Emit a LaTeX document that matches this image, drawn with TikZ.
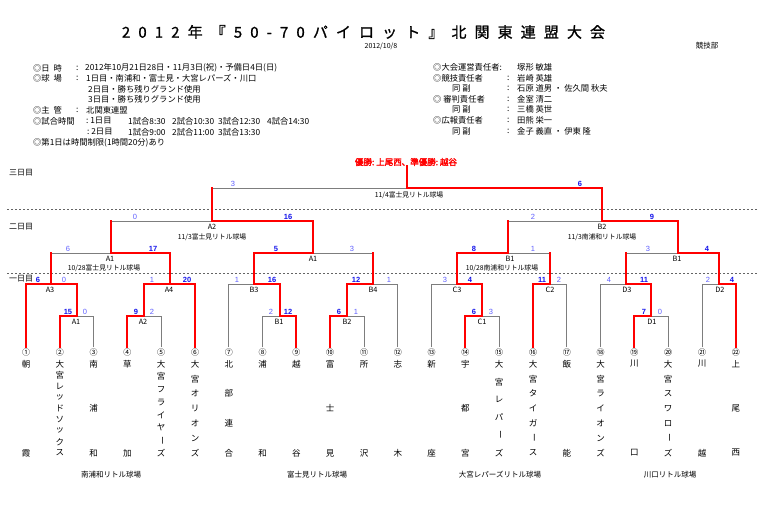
\documentclass[tikz,border=0pt]{standalone}
\usepackage{fontspec}
\setmainfont{Noto Sans CJK JP}
\newfontfamily\jpbold[FakeBold=2.5]{Noto Sans CJK JP}
\newfontfamily\jptitle[FakeBold=1]{Noto Sans CJK JP}
\newfontfamily\numfont{Liberation Sans}
\definecolor{lg}{RGB}{125,125,125}
\definecolor{rd}{RGB}{255,0,0}
\definecolor{sblue}{RGB}{95,95,255}
\definecolor{bblue}{RGB}{20,20,235}
\newcommand\tk{\kern8.1pt}
\newcommand\cho{\rotatebox[origin=c]{-90}{ー}}
\newcommand\tname[3]{\foreach \ch [count=\k] in {#3} {\node[tn] (nm#1-\k) at ({26+33.8*(#1-1)},{364+(\k-1)*89/(#2-1)}) {\ch};}}
\begin{document}
\begin{tikzpicture}[x=1pt,y=-1pt,
  gl/.style={draw=lg,line width=0.9pt},
  rl/.style={draw=rd,line width=2pt,line cap=rect},
  dl/.style={draw=lg!80!black,line width=0.8pt,dash pattern=on 2pt off 2pt},
  info/.style={anchor=west,inner sep=0pt,font=\fontsize{8.3}{9}\selectfont},
  sc/.style={inner sep=0pt,anchor=south,text=sblue,font=\numfont\fontsize{7.5}{8}\selectfont},
  scb/.style={inner sep=0pt,anchor=south,text=bblue,font=\numfont\bfseries\fontsize{7.5}{8}\selectfont},
  ml/.style={inner sep=0pt,font=\fontsize{7.3}{8}\selectfont},
  vn/.style={inner sep=0pt,font=\fontsize{6.8}{7}\selectfont},
  tn/.style={inner sep=0pt,font=\fontsize{8.5}{9}\selectfont},
  num/.style={inner sep=0pt,font=\fontsize{8}{9}\selectfont},
  day/.style={anchor=west,inner sep=0pt,font=\fontsize{8}{9}\selectfont},
  bv/.style={inner sep=0pt,font=\fontsize{7.5}{8}\selectfont},
]
\fill[white] (0,0) rectangle (780,511);
\useasboundingbox (0,0) rectangle (780,511);

% ---------- header ----------
\node[inner sep=0pt,font=\jptitle\fontsize{15}{16}\selectfont] (title) at (363.5,32)
 {2\tk 0\tk 1\tk 2\tk 年\tk 『\tk 5\tk 0\tk -\tk 7\tk 0\tk パ\tk イ\tk ロ\tk ッ\tk ト\tk 』\tk 北\tk 関\tk 東\tk 連\tk 盟\tk 大\tk 会};
\node[inner sep=0pt,font=\fontsize{7}{8}\selectfont] (date) at (381,46) {2012/10/8};
\node[inner sep=0pt,font=\fontsize{7.5}{8}\selectfont] (dept) at (707,46) {競技部};

% left info
\node[info] (i1a) at (33,68) {◎日\ \ 時};
\node[info] (i1b) at (76,68) {:};
\node[info] (i1c) at (85,68) {2012年10月21日28日・11月3日(祝)・予備日4日(日)};
\node[info] (i2a) at (33,78) {◎球\ \ 場};
\node[info] (i2b) at (76,78) {:};
\node[info] (i2c) at (86,78) {1日目・南浦和・富士見・大宮レパーズ・川口};
\node[info] (i3) at (88,89) {2日目・勝ち残りグランド使用};
\node[info] (i4) at (88,99) {3日目・勝ち残りグランド使用};
\node[info] (i5a) at (33,110) {◎主\ \ 管};
\node[info] (i5b) at (76,110) {:};
\node[info] (i5c) at (86,110) {北関東連盟};
\node[info] (i6a) at (33,121) {◎試合時間};
\node[info] (i6b) at (86,121) {:\ 1日目};
\node[info] (i6c) at (128,121) {1試合8:30};
\node[info] (i6d) at (172,121) {2試合10:30};
\node[info] (i6e) at (218,121) {3試合12:30};
\node[info] (i6f) at (267,121) {4試合14:30};
\node[info] (i7b) at (87,132) {:\ 2日目};
\node[info] (i7c) at (128,132) {1試合9:00};
\node[info] (i7d) at (172,132) {2試合11:00};
\node[info] (i7e) at (218,132) {3試合13:30};
\node[info] (i8) at (33,143) {◎第1日は時間制限(1時間20分)あり};

% right info
\node[info] (r1a) at (433,67) {◎大会運営責任者:};
\node[info] (r1c) at (517,67) {塚形\ 敏雄};
\node[info] (r2a) at (433,78) {◎競技責任者};
\node[info] (r2b) at (507,78) {:};
\node[info] (r2c) at (517,78) {岩崎\ 英雄};
\node[info] (r3a) at (452,88) {同\ 副};
\node[info] (r3b) at (507,88) {:};
\node[info] (r3c) at (517,88) {石原\ 道男\ ・\ 佐久間\ 秋夫};
\node[info] (r4a) at (433,99) {◎\ 審判責任者};
\node[info] (r4b) at (507,99) {:};
\node[info] (r4c) at (517,99) {金室\ 清二};
\node[info] (r5a) at (452,109) {同\ 副};
\node[info] (r5b) at (507,109) {:};
\node[info] (r5c) at (517,109) {三橋\ 英世};
\node[info] (r6a) at (433,120) {◎広報責任者};
\node[info] (r6b) at (507,120) {:};
\node[info] (r6c) at (517,120) {田熊\ 栄一};
\node[info] (r7a) at (452,131) {同\ 副};
\node[info] (r7b) at (507,131) {:};
\node[info] (r7c) at (517,131) {金子\ 義直\ ・\ 伊東\ 隆};

% ---------- day labels & dashed separators ----------
\node[day] (d3) at (9,173) {三日目};
\node[day] (d2) at (9,227) {二日目};
\node[day] (d1) at (9,279) {一日目};
\coordinate (s1l) at (7,209); \coordinate (s1r) at (758,209);
\coordinate (s2l) at (7,273); \coordinate (s2r) at (758,273);
\draw[dl] (s1l) -- (s1r);
\draw[dl] (s2l) -- (s2r);

% ---------- coordinates ----------
\foreach \i in {1,...,22} \coordinate (t\i) at ({26+33.8*(\i-1)},347);
\coordinate (a1) at (76.7,316);  \coordinate (a2) at (144.3,316);
\coordinate (b1) at (279.5,316); \coordinate (b2) at (347.1,316);
\coordinate (c1) at (482.3,316); \coordinate (dd1) at (651.3,316);
\coordinate (A3) at (51.35,284); \coordinate (A4) at (169.6,284);
\coordinate (B3) at (254.2,284); \coordinate (B4) at (372.5,284);
\coordinate (C3) at (457,284);   \coordinate (C2) at (549.9,284);
\coordinate (D3) at (626,284);   \coordinate (D2) at (718.9,284);
\coordinate (A1L) at (110.5,253); \coordinate (A1M) at (313.3,253);
\coordinate (B1L) at (508,253);   \coordinate (B1R) at (678,253);
\coordinate (A2) at (212,221);    \coordinate (B2) at (601.5,221);
\coordinate (F) at (407,188);

% ---------- gray (losing) lines ----------
\draw[gl] (t3) -- (t3 |- a1);
\draw[gl] (t5) -- (t5 |- a2);
\draw[gl] (t7) -- (t7 |- B3);
\draw[gl] (t8) -- (t8 |- b1);
\draw[gl] (t11) -- (t11 |- b2);
\draw[gl] (t12) -- (t12 |- B4);
\draw[gl] (t13) -- (t13 |- C3);
\draw[gl] (t15) -- (t15 |- c1);
\draw[gl] (t17) -- (t17 |- C2);
\draw[gl] (t18) -- (t18 |- D3);
\draw[gl] (t20) -- (t20 |- dd1);
\draw[gl] (t21) -- (t21 |- D2);
\draw[gl] (a1) -- (t3 |- a1);
\draw[gl] (a2) -- (t5 |- a2);
\draw[gl] (t8 |- b1) -- (b1);
\draw[gl] (b2) -- (t11 |- b2);
\draw[gl] (c1) -- (t15 |- c1);
\draw[gl] (dd1) -- (t20 |- dd1);
\draw[gl] (t7 |- B3) -- (B3);
\draw[gl] (B4) -- (t12 |- B4);
\draw[gl] (t13 |- C3) -- (C3);
\draw[gl] (C2) -- (t17 |- C2);
\draw[gl] (t18 |- D3) -- (D3);
\draw[gl] (t21 |- D2) -- (D2);
\draw[gl] (A3 |- A1L) -- (A1L);
\draw[gl] (A1M) -- (B4 |- A1M);
\draw[gl] (B1L) -- (C2 |- B1L);
\draw[gl] (D3 |- B1R) -- (B1R);
\draw[gl] (A1L |- A2) -- (A2);
\draw[gl] (B1L |- B2) -- (B2);
\draw[gl] (A2 |- F) -- (F);

% ---------- champion ----------
\node[inner sep=0pt,text=rd,font=\jpbold\fontsize{8.5}{9}\selectfont] (champ) at (406,162) {優勝:\ 上尾西、準優勝:\ 越谷};

% ---------- red (winning) lines ----------
\draw[rl] (t1) -- (t1 |- A3);
\draw[rl] (t2) -- (t2 |- a1);
\draw[rl] (t4) -- (t4 |- a2);
\draw[rl] (t6) -- (t6 |- A4);
\draw[rl] (t9) -- (t9 |- b1);
\draw[rl] (t10) -- (t10 |- b2);
\draw[rl] (t14) -- (t14 |- c1);
\draw[rl] (t16) -- (t16 |- C2);
\draw[rl] (t19) -- (t19 |- dd1);
\draw[rl] (t22) -- (t22 |- D2);
\draw[rl] (a1) -- (a1 |- A3);
\draw[rl] (a2) -- (a2 |- A4);
\draw[rl] (b1) -- (b1 |- B3);
\draw[rl] (b2) -- (b2 |- B4);
\draw[rl] (c1) -- (c1 |- C3);
\draw[rl] (dd1) -- (dd1 |- D3);
\draw[rl] (A3) -- (A3 |- A1L);
\draw[rl] (A4) -- (A4 |- A1L);
\draw[rl] (B3) -- (B3 |- A1M);
\draw[rl] (B4) -- (B4 |- A1M);
\draw[rl] (C3) -- (C3 |- B1L);
\draw[rl] (C2) -- (C2 |- B1L);
\draw[rl] (D3) -- (D3 |- B1R);
\draw[rl] (D2) -- (D2 |- B1R);
\draw[rl] (A1L) -- (A1L |- A2);
\draw[rl] (A1M) -- (A1M |- A2);
\draw[rl] (B1L) -- (B1L |- B2);
\draw[rl] (B1R) -- (B1R |- B2);
\draw[rl] (A2) -- (A2 |- F);
\draw[rl] (B2) -- (B2 |- F);
\draw[rl] (F) -- (F |- champ.south);
\draw[rl] (t2 |- a1) -- (a1);
\draw[rl] (t4 |- a2) -- (a2);
\draw[rl] (b1) -- (t9 |- b1);
\draw[rl] (t10 |- b2) -- (b2);
\draw[rl] (t14 |- c1) -- (c1);
\draw[rl] (t19 |- dd1) -- (dd1);
\draw[rl] (t1 |- A3) -- (a1 |- A3);
\draw[rl] (a2 |- A4) -- (t6 |- A4);
\draw[rl] (B3) -- (b1 |- B3);
\draw[rl] (b2 |- B4) -- (B4);
\draw[rl] (C3) -- (c1 |- C3);
\draw[rl] (t16 |- C2) -- (C2);
\draw[rl] (D3) -- (dd1 |- D3);
\draw[rl] (D2) -- (t22 |- D2);
\draw[rl] (A1L) -- (A4 |- A1L);
\draw[rl] (B3 |- A1M) -- (A1M);
\draw[rl] (C3 |- B1L) -- (B1L);
\draw[rl] (B1R) -- (D2 |- B1R);
\draw[rl] (A2) -- (A1M |- A2);
\draw[rl] (B2) -- (B1R |- B2);
\draw[rl] (F) -- (B2 |- F);

% ---------- scores ----------
% level 4 (y=316)
\node[scb] (s01) at (68,314.5) {15};  \node[sc] (s02) at (85,314.5) {0};
\node[scb] (s03) at (136,314.5) {9};  \node[sc] (s04) at (152,314.5) {2};
\node[sc] (s05) at (271,314.5) {2};   \node[scb] (s06) at (288,314.5) {12};
\node[scb] (s07) at (339,314.5) {6};  \node[sc] (s08) at (356,314.5) {1};
\node[scb] (s09) at (474,314.5) {6};  \node[sc] (s10) at (491,314.5) {3};
\node[scb] (s11) at (644,314.5) {7};  \node[sc] (s12) at (660,314.5) {0};
% level 3 (y=284)
\node[scb] (s13) at (38,282.5) {6};   \node[sc] (s14) at (64,282.5) {0};
\node[sc] (s15) at (152,282.5) {1};   \node[scb] (s16) at (187,282.5) {20};
\node[sc] (s17) at (237,282.5) {1};   \node[scb] (s18) at (272,282.5) {16};
\node[scb] (s19) at (356,282.5) {12}; \node[sc] (s20) at (389,282.5) {1};
\node[sc] (s21) at (445,282.5) {3};   \node[scb] (s22) at (470,282.5) {4};
\node[scb] (s23) at (542,282.5) {11}; \node[sc] (s24) at (559,282.5) {2};
\node[sc] (s25) at (609,282.5) {4};   \node[scb] (s26) at (644,282.5) {11};
\node[sc] (s27) at (708,282.5) {2};   \node[scb] (s28) at (732,282.5) {4};
% level 2 (y=253)
\node[sc] (s29) at (68,251.5) {6};    \node[scb] (s30) at (153,251.5) {17};
\node[scb] (s31) at (276,251.5) {5};  \node[sc] (s32) at (352,251.5) {3};
\node[scb] (s33) at (474,251.5) {8};  \node[sc] (s34) at (533,251.5) {1};
\node[sc] (s35) at (648,251.5) {3};   \node[scb] (s36) at (707,251.5) {4};
% level 1 (y=221)
\node[sc] (s37) at (135,219.5) {0};   \node[scb] (s38) at (288,219.5) {16};
\node[sc] (s39) at (533,219.5) {2};   \node[scb] (s40) at (652,219.5) {9};
% final (y=188)
\node[sc] (s41) at (233,186.5) {3};   \node[scb] (s42) at (580,186.5) {6};

% ---------- match labels ----------
\node[ml] (la1) at (76,322) {A1};  \node[ml] (la2) at (143,322) {A2};
\node[ml] (lb1) at (279,322) {B1}; \node[ml] (lb2) at (347,322) {B2};
\node[ml] (lc1) at (482,322) {C1}; \node[ml] (ld1) at (652,322) {D1};
\node[ml] (lA3) at (50,290) {A3};  \node[ml] (lA4) at (169,290) {A4};
\node[ml] (lB3) at (254,290) {B3}; \node[ml] (lB4) at (373,290) {B4};
\node[ml] (lC3) at (457,290) {C3}; \node[ml] (lC2) at (550,290) {C2};
\node[ml] (lD3) at (627,290) {D3}; \node[ml] (lD2) at (720,290) {D2};
\node[ml] (lA1L) at (110,259) {A1}; \node[ml] (lA1M) at (313,259) {A1};
\node[ml] (lB1L) at (510,259) {B1}; \node[ml] (lB1R) at (677,259) {B1};
\node[ml] (lA2) at (212,227) {A2};  \node[ml] (lB2) at (602,227) {B2};
\node[vn] (vA1L) at (104,268) {10/28富士見リトル球場};
\node[vn] (vB1L) at (502,268) {10/28南浦和リトル球場};
\node[vn] (vA2) at (212,237) {11/3富士見リトル球場};
\node[vn] (vB2) at (602,237) {11/3南浦和リトル球場};
\node[vn] (vF) at (409,195) {11/4富士見リトル球場};

% ---------- team numbers ----------
\foreach \i/\lab in {1/①,2/②,3/③,4/④,5/⑤,6/⑥,7/⑦,8/⑧,9/⑨,10/⑩,11/⑪,12/⑫,13/⑬,14/⑭,15/⑮,16/⑯,17/⑰,18/⑱,19/⑲,20/⑳,21/㉑,22/㉒}
  \node[num] (n\i) at ({26+33.8*(\i-1)},352.5) {\lab};

% ---------- team names ----------
\tname{1}{2}{朝,霞}
\tname{2}{9}{大,宮,レ,ッ,ド,ソ,ッ,ク,ス}
\tname{3}{3}{南,浦,和}
\tname{4}{2}{草,加}
\tname{5}{8}{大,宮,フ,ラ,イ,ヤ,\cho,ズ}
\tname{6}{7}{大,宮,オ,リ,オ,ン,ズ}
\tname{7}{4}{北,部,連,合}
\tname{8}{2}{浦,和}
\tname{9}{2}{越,谷}
\tname{10}{3}{富,士,見}
\tname{11}{2}{所,沢}
\tname{12}{2}{志,木}
\tname{13}{2}{新,座}
\tname{14}{3}{宇,都,宮}
\tname{15}{6}{大,宮,レ,パ,\cho,ズ}
\tname{16}{7}{大,宮,タ,イ,ガ,\cho,ス}
\tname{17}{2}{飯,能}
\tname{18}{7}{大,宮,ラ,イ,オ,ン,ズ}
\tname{19}{2}{川,口}
\tname{20}{7}{大,宮,ス,ワ,ロ,\cho,ズ}
\tname{21}{2}{川,越}
\tname{22}{3}{上,尾,西}

% ---------- venues ----------
\node[bv] (vv1) at (111,475) {南浦和リトル球場};
\node[bv] (vv2) at (317,475) {富士見リトル球場};
\node[bv] (vv3) at (500,475) {大宮レパーズリトル球場};
\node[bv] (vv4) at (670,475) {川口リトル球場};
\end{tikzpicture}
\end{document}
